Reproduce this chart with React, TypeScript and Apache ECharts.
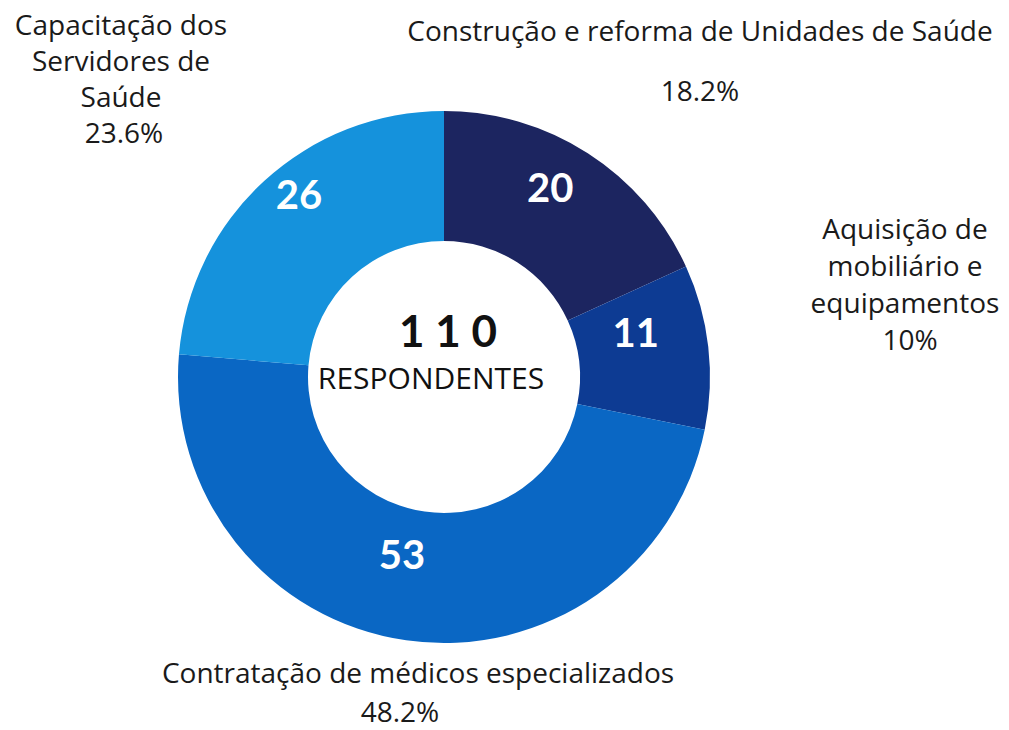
import React, { useEffect, useRef } from "react";
import * as echarts from "echarts";

const categories = [
  "Construção e reforma de Unidades de Saúde",
  "Aquisição de mobiliário e equipamentos",
  "Contratação de médicos especializados",
  "Capacitação dos Servidores de Saúde",
];
const values = [20, 11, 53, 26];
const percentLabels = ["18.2%", "10%", "48.2%", "23.6%"];
const outerLines = [
  ["Construção e reforma de Unidades de Saúde", "", "18.2%"],
  ["Aquisição de", "mobiliário e", "equipamentos", "10%"],
  ["Contratação de médicos especializados", "48.2%"],
  ["Capacitação dos", "Servidores de", "Saúde", "23.6%"],
];
const totalValue = 110;
const totalLabel = "RESPONDENTES";
const colors = ["#1c2560", "#0d3b93", "#0a67c4", "#1592dc"];

const FONT = "'Open Sans', Lato, sans-serif";
const NUMFONT = "Lato, 'Open Sans', sans-serif";

export default function App() {
  const ref = useRef<HTMLDivElement>(null);
  useEffect(() => {
    document.body.style.margin = "0";
    const chart = echarts.init(ref.current!, null, { renderer: "svg" });

    // layout of outer label blocks: [centerX, firstLineY, lineHeight]
    const blocks: [number, number, number][] = [
      [700, 30, 30],
      [905, 228, 37],
      [418, 672, 39],
      [121, 24, 36],
    ];
    const graphics: any[] = [];
    outerLines.forEach((lines, i) => {
      const [cx, y0, lh] = blocks[i];
      lines.forEach((t, j) => {
        if (!t) return;
        let x = cx;
        if (i === 1 && j === 3) x = cx + 5;
        if (i === 2 && j === 1) x = cx - 18;
        if (i === 3 && j === 3) x = cx + 3;
        graphics.push({
          type: "text",
          x,
          y: y0 + lh * j,
          style: {
            text: t,
            font: `28px ${FONT}`,
            fill: "#1a1a1a",
            align: "center",
            verticalAlign: "middle",
          },
        });
      });
    });
    graphics.push({
      type: "text",
      x: 448,
      y: 330,
      style: {
        text: String(totalValue).split("").join(" "),
        font: `bold 44px ${NUMFONT}`,
        fill: "#111",
        align: "center",
        verticalAlign: "middle",
      },
    });
    graphics.push({
      type: "text",
      x: 431,
      y: 377,
      style: {
        text: totalLabel,
        font: `30px ${FONT}`,
        fill: "#111",
        align: "center",
        verticalAlign: "middle",
      },
    });

    chart.setOption({
      animation: false,
      backgroundColor: "#ffffff",
      color: colors,
      series: [
        {
          type: "pie",
          center: [444, 377],
          radius: [136, 266],
          startAngle: 90,
          clockwise: true,
          avoidLabelOverlap: false,
          itemStyle: { borderWidth: 0 },
          label: {
            show: true,
            position: "inside",
            formatter: "{c}",
            color: "#ffffff",
            fontFamily: NUMFONT,
            fontWeight: "bold",
            fontSize: 40,
          },
          labelLayout: (params: any) => {
            const shifts = [[-4, -18], [-11, -22], [-13, -25], [-7, -33]];
            const s = shifts[params.dataIndex] || [0, 0];
            return { dx: s[0], dy: s[1] };
          },
          labelLine: { show: false },
          emphasis: { disabled: true },
          data: categories.map((name, i) => ({
            name,
            value: values[i],
            percent: percentLabels[i],
          })),
        },
      ],
      graphic: graphics,
    });
    return () => chart.dispose();
  }, []);
  return <div ref={ref} style={{ width: 1009, height: 730 }} />;
}
